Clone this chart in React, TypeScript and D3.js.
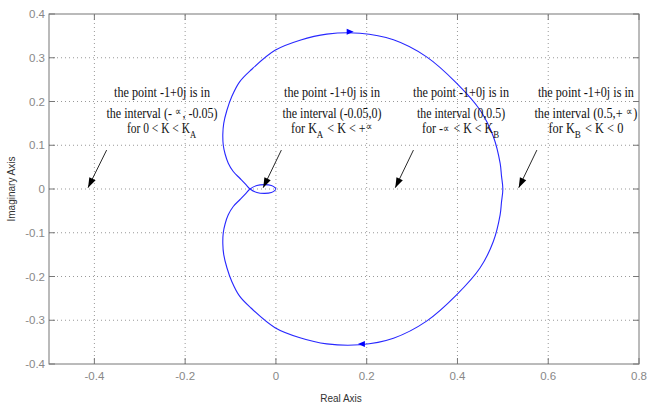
import React from "react";
import * as d3 from "d3";

// Half of the Nyquist contour (omega from 0 to +inf)
const realPart = [0.5, 0.497, 0.494, 0.479, 0.45, 0.398, 0.332, 0.259, 0.185, 0.112, 0.053, -0.002, -0.055, -0.08, -0.097, -0.108, -0.115, -0.117, -0.116, -0.112, -0.105, -0.094, -0.079, -0.066, -0.057, -0.042, -0.025, -0.01, -0.002, 0];
const imagPart = [0, -0.03, -0.059, -0.12, -0.18, -0.242, -0.302, -0.341, -0.356, -0.354, -0.34, -0.317, -0.272, -0.245, -0.212, -0.18, -0.15, -0.125, -0.1, -0.08, -0.059, -0.04, -0.024, -0.01, 0, 0.008, 0.01, 0.008, 0.003, 0];

const xTicks = [-0.4, -0.2, 0, 0.2, 0.4, 0.6, 0.8];
const yTicks = [-0.4, -0.3, -0.2, -0.1, 0, 0.1, 0.2, 0.3, 0.4];
const xTickLabels = ["-0.4", "-0.2", "0", "0.2", "0.4", "0.6", "0.8"];
const yTickLabels = ["-0.4", "-0.3", "-0.2", "-0.1", "0", "0.1", "0.2", "0.3", "0.4"];

// direction arrows on the curve: real, imag, direction (+1 right, -1 left)
const dirArrowRe = [0.167, 0.185];
const dirArrowIm = [0.3595, -0.354];
const dirArrowSign = [1, -1];

// annotation blocks
const noteCenterRe = [-0.251, 0.1236, 0.408, 0.683];
const noteArrowFromRe = [-0.373, 0.012, 0.303, 0.575];
const noteArrowToRe = [-0.414, -0.028, 0.263, 0.535];
const noteArrowFromIm = 0.089;
const noteArrowToIm = 0.003;
const noteLineIm = [0.21, 0.162, 0.128];

export default function App() {
  const W = 649, H = 409;
  const x = d3.scaleLinear().domain([-0.5, 0.8]).range([49, 639]);
  const y = d3.scaleLinear().domain([-0.4, 0.4]).range([364, 14]);

  const half: [number, number][] = realPart.map((r, i) => [r, imagPart[i]]);
  const mirror: [number, number][] = half.map(([r, i]) => [r, -i] as [number, number]).reverse();
  const full = [...mirror, ...half.slice(1)];
  const line = d3.line<[number, number]>().x(d => x(d[0])).y(d => y(d[1])).curve(d3.curveCatmullRom.alpha(0.5));

  const serif = "'Liberation Serif', 'Times New Roman', serif";
  const sans = "'Liberation Sans', Arial, sans-serif";
  const fs = 15;
  const small = (s: string, dy = -3) => (
    <>
      <tspan fontSize={11} dy={dy}>{s}</tspan>
      <tspan dy={-dy}>{"\u200A"}</tspan>
    </>
  );
  const sub = (s: string) => (
    <>
      <tspan fontSize={11} dy={5}>{s}</tspan>
      <tspan dy={-5}>{"\u200A"}</tspan>
    </>
  );

  const blocks = [
    [<>the point -1+0j is in</>, <>the interval (- {small("∝")}, -0.05)</>, <>for 0 &lt; K &lt; K{sub("A")}</>],
    [<>the point -1+0j is in</>, <>the interval (-0.05,0)</>, <>for K{sub("A")} &lt; K &lt; +{small("∝")}</>],
    [<>the point -1+0j is in</>, <>the interval (0,0.5)</>, <>for -{small("∝", -1)} &lt; K &lt; K{sub("B")}</>],
    [<>the point -1+0j is in</>, <>the interval (0.5,+ {small("∝")})</>, <>for  K{sub("B")} &lt; K &lt; 0</>],
  ];
  const widths = [[96, 111, 70], [96, 99, 82], [96, 88, 78], [96, 103, 75]];

  const arrowHead = (x1: number, y1: number, x2: number, y2: number, len = 9, wid = 3) => {
    const a = Math.atan2(y2 - y1, x2 - x1);
    const bx = x2 - len * Math.cos(a), by = y2 - len * Math.sin(a);
    const px = -Math.sin(a) * wid, py = Math.cos(a) * wid;
    return `${x2},${y2} ${bx + px},${by + py} ${bx - px},${by - py}`;
  };

  return (
    <svg width={W} height={H} style={{ position: "absolute", left: 0, top: 0, background: "#fff" }}>
      <rect x={0} y={0} width={W} height={H} fill="#fff" />
      {/* grid */}
      {xTicks.filter(t => t < 0.8).map(t => (
        <line key={"gx" + t} x1={x(t)} x2={x(t)} y1={y(-0.4)} y2={y(0.4)} stroke="#999" strokeDasharray="1,3" />
      ))}
      {yTicks.filter(t => t > -0.4 && t < 0.4).map(t => (
        <line key={"gy" + t} x1={x(-0.5)} x2={x(0.8)} y1={y(t)} y2={y(t)} stroke="#999" strokeDasharray="1,3" />
      ))}
      {/* ticks */}
      {xTicks.map(t => (
        <g key={"tx" + t}>
          <line x1={x(t)} x2={x(t)} y1={y(-0.4)} y2={y(-0.4) - 6} stroke="#777" />
          <line x1={x(t)} x2={x(t)} y1={y(0.4)} y2={y(0.4) + 6} stroke="#777" />
        </g>
      ))}
      {yTicks.map(t => (
        <g key={"ty" + t}>
          <line x1={x(-0.5)} x2={x(-0.5) + 6} y1={y(t)} y2={y(t)} stroke="#777" />
          <line x1={x(0.8)} x2={x(0.8) - 6} y1={y(t)} y2={y(t)} stroke="#777" />
        </g>
      ))}
      <rect x={x(-0.5)} y={y(0.4)} width={x(0.8) - x(-0.5)} height={y(-0.4) - y(0.4)} fill="none" stroke="#777" />
      {/* tick labels */}
      {xTicks.map((t, i) => (
        <text key={"lx" + t} x={x(t)} y={y(-0.4) + 16} textAnchor="middle" fontFamily={sans} fontSize={11.5} fill="#888">{xTickLabels[i]}</text>
      ))}
      {yTicks.map((t, i) => (
        <text key={"ly" + t} x={x(-0.5) - 4} y={y(t) + 4} textAnchor="end" fontFamily={sans} fontSize={11.5} fill="#888">{yTickLabels[i]}</text>
      ))}
      <text x={341} y={402} textAnchor="middle" fontFamily={sans} fontSize={10} fill="#333">Real Axis</text>
      <text transform={`translate(15,${y(0)}) rotate(-90)`} textAnchor="middle" fontFamily={sans} fontSize={10} fill="#333">Imaginary Axis</text>
      {/* curve */}
      <path d={line(full) || ""} fill="none" stroke="#2828ff" strokeWidth={1.1} />
      {dirArrowRe.map((r, i) => {
        const cx = x(r), cy = y(dirArrowIm[i]), s = dirArrowSign[i];
        return <polygon key={"da" + i} points={arrowHead(cx - s * 6, cy, cx + s * 2, cy, 7, 3)} fill="#0000ff" />;
      })}
      {/* annotations */}
      {blocks.map((b, bi) => (
        <g key={"b" + bi}>
          {b.map((content, li) => (
            <text key={li} x={x(noteCenterRe[bi])} y={y(noteLineIm[li])} textAnchor="middle" fontFamily={serif} fontSize={fs} fill="#111" textLength={widths[bi][li]} lengthAdjust="spacingAndGlyphs">{content}</text>
          ))}
          <line x1={x(noteArrowFromRe[bi])} y1={y(noteArrowFromIm)} x2={x(noteArrowToRe[bi])} y2={y(noteArrowToIm)} stroke="#111" strokeWidth={0.9} />
          <polygon points={arrowHead(x(noteArrowFromRe[bi]), y(noteArrowFromIm), x(noteArrowToRe[bi]), y(noteArrowToIm), 10, 3.5)} fill="#000" />
        </g>
      ))}
    </svg>
  );
}
